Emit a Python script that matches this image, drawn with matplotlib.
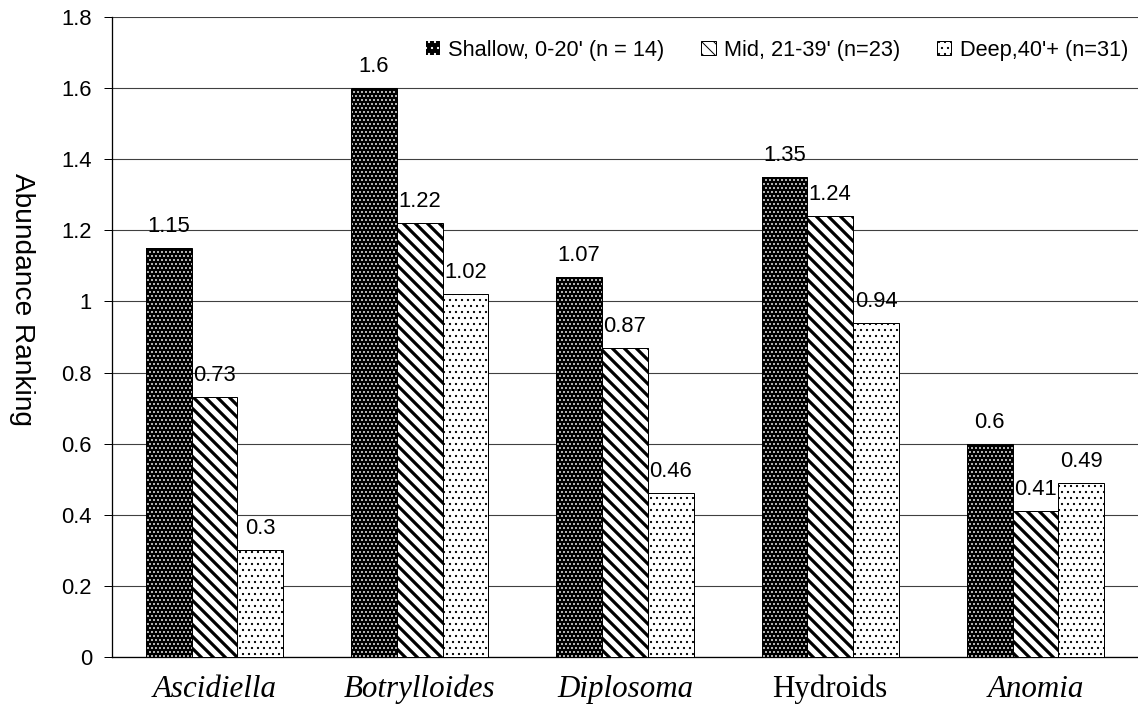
import matplotlib
matplotlib.use("Agg")
import matplotlib.pyplot as plt
import numpy as np
from matplotlib.patches import Patch

categories = ["Ascidiella", "Botrylloides", "Diplosoma", "Hydroids", "Anomia"]
italic_cats = [True, True, True, False, True]
series_names = ["Shallow, 0-20' (n = 14)", "Mid, 21-39' (n=23)", "Deep,40'+ (n=31)"]
shallow = [1.15, 1.6, 1.07, 1.35, 0.6]
mid = [0.73, 1.22, 0.87, 1.24, 0.41]
deep = [0.3, 1.02, 0.46, 0.94, 0.49]
yticks = [0, 0.2, 0.4, 0.6, 0.8, 1, 1.2, 1.4, 1.6, 1.8]
ytick_labels = ["0", "0.2", "0.4", "0.6", "0.8", "1", "1.2", "1.4", "1.6", "1.8"]

DPI = 72
plt.rcParams['font.family'] = ['Liberation Sans', 'DejaVu Sans']
fig = plt.figure(figsize=(1138 / DPI, 711 / DPI), dpi=DPI)
ax = fig.add_axes([112 / 1138, 1 - 657 / 711, (1138 - 112) / 1138, (657 - 17) / 711])

x = np.arange(len(categories))
w = 0.223

def set_hlw(bars, lw):
    for b in bars:
        if hasattr(b, "set_hatch_linewidth"):
            b.set_hatch_linewidth(lw)

# Shallow: black with white dots
with plt.rc_context({'hatch.linewidth': 1.0}):
    b1 = ax.bar(x - w, shallow, w, facecolor='black', edgecolor='white', linewidth=0,
                hatch='...', zorder=3)
set_hlw(b1, 1.0)
b1o = ax.bar(x - w, shallow, w, fill=False, edgecolor='black', linewidth=1, zorder=4)

# Mid: thick diagonal stripes
with plt.rc_context({'hatch.linewidth': 3.2}):
    b2 = ax.bar(x, mid, w, facecolor='white', edgecolor='black', linewidth=1,
                hatch='\\\\', zorder=3)
set_hlw(b2, 3.2)

# Deep: white with sparse dots
with plt.rc_context({'hatch.linewidth': 1.0}):
    b3 = ax.bar(x + w, deep, w, facecolor='white', edgecolor='black', linewidth=1,
                hatch='..', zorder=3)
set_hlw(b3, 1.0)

for xs, vals in [(x - w, shallow), (x, mid), (x + w, deep)]:
    for xi, v in zip(xs, vals):
        ax.annotate(f"{v:g}", (xi, v), xytext=(0, 11), textcoords='offset pixels',
                    ha='center', va='bottom', fontsize=22, zorder=5)

ax.set_xlim(-0.5, len(categories) - 0.5)
ax.set_ylim(0, 1.8)
ax.set_yticks(yticks)
ax.set_yticklabels(ytick_labels, fontsize=22)
ax.yaxis.grid(True, color='#404040', linewidth=1.1, zorder=0)
ax.set_axisbelow(True)
ax.tick_params(axis='y', direction='out', length=8, width=1, pad=12)
ax.tick_params(axis='x', length=0, pad=18)
ax.set_xticks(x)
ax.set_xticklabels(categories)
for lbl, it in zip(ax.get_xticklabels(), italic_cats):
    lbl.set_fontfamily(['Liberation Serif', 'DejaVu Serif'])
    lbl.set_fontsize(31)
    lbl.set_fontstyle('italic' if it else 'normal')

for s in ['top', 'right']:
    ax.spines[s].set_visible(False)
ax.spines['left'].set_linewidth(1.3)
ax.spines['bottom'].set_linewidth(1.3)

ax.set_ylabel("Abundance Ranking", fontsize=28, rotation=270, va='center', ha='center')
ax.yaxis.set_label_coords(-0.0877, 0.559)

# legend handles
with plt.rc_context({'hatch.linewidth': 1.0, 'hatch.color': 'white'}):
    h1 = Patch(facecolor='black', hatch='..')
with plt.rc_context({'hatch.linewidth': 3.0}):
    h2 = Patch(facecolor='white', edgecolor='black', linewidth=1, hatch='\\\\')
with plt.rc_context({'hatch.linewidth': 1.0}):
    h3 = Patch(facecolor='white', edgecolor='black', linewidth=1, hatch='..')
for h, lw in [(h1, 1.0), (h2, 3.0), (h3, 1.0)]:
    if hasattr(h, "set_hatch_linewidth"):
        h.set_hatch_linewidth(lw)
leg = ax.legend([h1, h2, h3], series_names,
                loc='upper right', bbox_to_anchor=(1.003, 0.985), ncol=3, frameon=False,
                fontsize=21.8, handlelength=0.65, handleheight=0.65, handletextpad=0.38,
                columnspacing=1.7, borderaxespad=0.2)

fig.savefig("out.png", dpi=DPI)
